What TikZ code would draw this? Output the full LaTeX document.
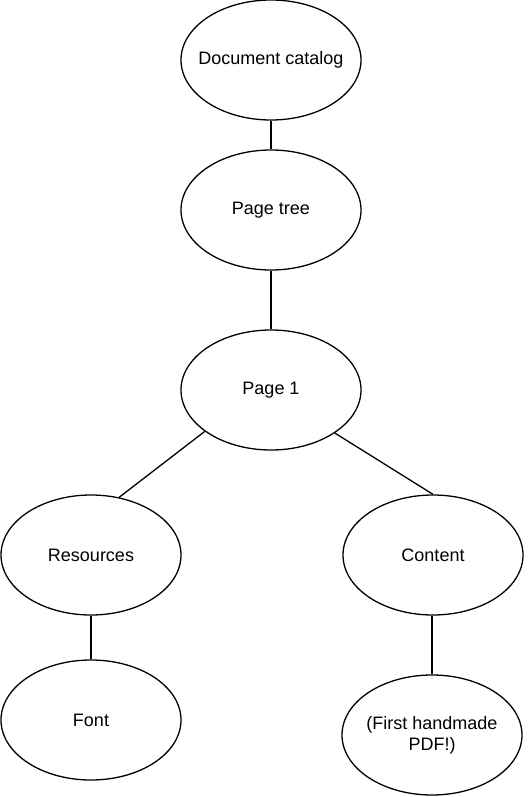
\documentclass[tikz,border=0pt]{standalone}
\usepackage{fontspec}
\setmainfont{Liberation Sans}
\usetikzlibrary{shapes.geometric}

\tikzset{
  obj/.style={draw,ellipse,line width=1.3pt,minimum width=180pt,minimum height=120pt,inner ysep=0pt,inner xsep=-20pt,font=\fontsize{18}{21}\selectfont,align=center},
  link/.style={line width=1.3pt}
}

\begin{document}
\begin{tikzpicture}[x=1pt,y=-1pt]
      \useasboundingbox (0,0) rectangle (527,797) ;
      \node[obj] (cat) at (271,60) {Document catalog} ;
      \node[obj] (tree) at (271,210) {Page tree} ;
      \node[obj] (page) at (271,390) {Page 1} ;
      \node[obj] (res) at (91,555) {Resources} ;
      \node[obj] (cont) at (433,555) {Content} ;
      \node[obj] (font) at (91,720) {Font} ;
      \node[obj] (pdf) at (432,735) {(First handmade\\PDF!)} ;
      \draw[link] (cat) -- (tree) ;
      \draw[link] (tree) -- (page) ;
      \draw[link] (page.212) -- (res.64) ;
      \draw[link] (page.326) -- (cont.north) ;
      \draw[link] (res) -- (font) ;
      \draw[link] (cont.south -| pdf.north) -- (pdf.north) ;
    \end{tikzpicture}
\end{document}
